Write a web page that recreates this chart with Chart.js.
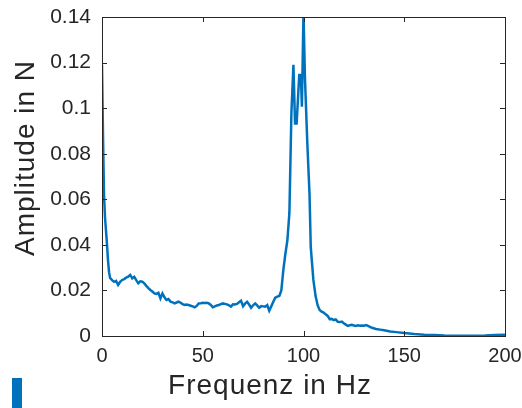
<!DOCTYPE html>
<html>
<head>
<meta charset="utf-8">
<script src="https://cdn.jsdelivr.net/npm/chart.js@4"></script>
<style>
  html, body { margin: 0; padding: 0; background: #fff; overflow: hidden; }
  canvas { display: block; }
</style>
</head>
<body>
<canvas id="spectrum" width="522" height="408"></canvas>
<script>
// Spectrum (Hz / N)
const freqHz = [
  0, 0.5, 1, 1.5, 2, 2.5, 3, 3.5, 4, 5, 6, 7, 8, 9, 10, 11, 12, 13, 14, 15,
  16, 17, 18, 19, 20, 21, 22, 23, 24, 25, 26, 27, 28, 29, 30, 31, 32, 33, 34, 35,
  36, 37, 38, 39, 40, 41, 42, 43, 44, 45, 46, 47, 48, 49, 50, 51, 52, 53, 54, 55,
  56, 57, 58, 59, 60, 61, 62, 63, 64, 65, 66, 67, 68, 69, 70, 71, 72, 73, 74, 75,
  76, 77, 78, 79, 80, 81, 82, 83, 84, 85, 86, 87, 88, 89, 90, 91, 92, 93, 94, 95,
  95.8, 96.6, 97.4, 97.9, 98.7, 99.2, 100, 100.7, 101.9, 103, 103.6, 104.9, 106, 107, 108, 109, 110, 111, 112, 113,
  114, 115, 116, 117, 118, 119, 120, 121, 122, 123, 124, 125, 126, 127, 128, 129, 130, 131, 132, 134,
  136, 138, 140, 143, 146, 150, 155, 160, 165, 170, 175, 180, 185, 190, 195, 200
];
const amplitudeN = [
  0.119, 0.088, 0.062, 0.052, 0.046, 0.040, 0.033, 0.028, 0.0255, 0.0245, 0.0238, 0.0242, 0.0224, 0.0238, 0.0246, 0.025, 0.0256, 0.026, 0.0268, 0.0253,
  0.026, 0.0245, 0.0231, 0.024, 0.0238, 0.0231, 0.022, 0.021, 0.0202, 0.0195, 0.0187, 0.0185, 0.019, 0.0165, 0.0187, 0.017, 0.0158, 0.0162, 0.0151, 0.0148,
  0.0143, 0.0147, 0.0151, 0.0146, 0.014, 0.0136, 0.0138, 0.0136, 0.0133, 0.013, 0.0126, 0.0132, 0.0143, 0.0144, 0.0146, 0.0145, 0.0146, 0.0143, 0.0136, 0.0126,
  0.013, 0.0134, 0.0136, 0.014, 0.0143, 0.0141, 0.0139, 0.0135, 0.0129, 0.0139, 0.0138, 0.0141, 0.0148, 0.0155, 0.0131, 0.0142, 0.015, 0.0138, 0.0124, 0.0135,
  0.0143, 0.0134, 0.0124, 0.0131, 0.013, 0.0129, 0.0136, 0.0111, 0.013, 0.015, 0.0168, 0.0173, 0.0176, 0.02, 0.029, 0.036, 0.042, 0.054, 0.098, 0.119,
  0.0933, 0.0933, 0.1065, 0.1145, 0.1145, 0.1006, 0.142, 0.1138, 0.0846, 0.062, 0.039, 0.0246, 0.0175, 0.0135, 0.0114, 0.0107, 0.0103, 0.0095, 0.0088, 0.0074,
  0.0075, 0.007, 0.0073, 0.0062, 0.0061, 0.0063, 0.0056, 0.005, 0.0044, 0.0047, 0.0049, 0.0046, 0.0044, 0.0047, 0.0045, 0.0046, 0.0045, 0.0048, 0.0044, 0.0036,
  0.0031, 0.0028, 0.0025, 0.002, 0.0017, 0.0013, 0.0009, 0.0006, 0.0004, 0.0002, 0.00015, 0.0001, 0.00015, 0.0002, 0.0004, 0.0006
];
const xTicks = [0, 50, 100, 150, 200];
const yTicks = [0, 0.02, 0.04, 0.06, 0.08, 0.1, 0.12, 0.14];
const xLabel = 'Frequenz in Hz';
const yLabel = 'Amplitude in N';

const AXIS_COLOR = '#262626';
const LINE_COLOR = '#0072BD';
const FONT = '"Liberation Sans", Arial, Helvetica, sans-serif';

// keep the plot box where the figure has it, labels may overhang
function fixBox(s, size) {
  if (s.isHorizontal()) s.height = size; else s.width = size;
  s.paddingLeft = s.paddingRight = s.paddingTop = s.paddingBottom = 0;
}

// MATLAB-style box with inward ticks, axis labels and the stray legend swatch
const matlabAxes = {
  id: 'matlabAxes',
  afterDraw(chart) {
    const { ctx, chartArea: a, scales } = chart;
    const len = 5;
    ctx.save();
    ctx.strokeStyle = AXIS_COLOR;
    ctx.lineWidth = 1;
    ctx.strokeRect(a.left + 0.5, a.top + 0.5, a.right - a.left, a.bottom - a.top);
    ctx.beginPath();
    xTicks.forEach(v => {
      const x = Math.round(scales.x.getPixelForValue(v)) + 0.5;
      ctx.moveTo(x, a.bottom); ctx.lineTo(x, a.bottom - len);
      ctx.moveTo(x, a.top); ctx.lineTo(x, a.top + len);
    });
    yTicks.forEach(v => {
      const y = Math.round(scales.y.getPixelForValue(v)) + 0.5;
      ctx.moveTo(a.left, y); ctx.lineTo(a.left + len, y);
      ctx.moveTo(a.right, y); ctx.lineTo(a.right - len, y);
    });
    ctx.stroke();

    ctx.fillStyle = AXIS_COLOR;
    ctx.font = '28px ' + FONT;
    ctx.letterSpacing = '1px';
    ctx.textAlign = 'center';
    ctx.textBaseline = 'alphabetic';
    ctx.fillText(xLabel, 270, 394);

    ctx.translate(34, 158);
    ctx.rotate(-Math.PI / 2);
    ctx.fillText(yLabel, 0, 0);
    ctx.restore();

    ctx.save();
    ctx.fillStyle = LINE_COLOR;
    ctx.fillRect(12, 378, 10, 30);
    ctx.restore();
  }
};

new Chart(document.getElementById('spectrum'), {
  type: 'line',
  data: {
    datasets: [{
      data: freqHz.map((f, i) => ({ x: f, y: amplitudeN[i] })),
      borderColor: LINE_COLOR,
      borderWidth: 2.5,
      pointRadius: 0,
      tension: 0,
      fill: false
    }]
  },
  options: {
    responsive: false,
    animation: false,
    layout: { autoPadding: false, padding: { left: 0, right: 17, top: 17, bottom: 0 } },
    plugins: {
      legend: { display: false },
      tooltip: { enabled: false }
    },
    scales: {
      x: {
        type: 'linear',
        min: 0,
        max: 200,
        afterFit: s => fixBox(s, 72),
        afterBuildTicks: s => { s.ticks = xTicks.map(v => ({ value: v })); },
        grid: { display: false, drawTicks: false },
        border: { display: false },
        ticks: { color: AXIS_COLOR, font: { family: FONT, size: 20 }, padding: 8, maxRotation: 0 }
      },
      y: {
        min: 0,
        max: 0.14,
        afterFit: s => fixBox(s, 102),
        afterBuildTicks: s => { s.ticks = yTicks.map(v => ({ value: v })); },
        grid: { display: false, drawTicks: false },
        border: { display: false },
        ticks: {
          color: AXIS_COLOR,
          font: { family: FONT, size: 21 },
          padding: 11,
          callback: v => String(+v.toFixed(2))
        }
      }
    }
  },
  plugins: [matlabAxes]
});
</script>
</body>
</html>
